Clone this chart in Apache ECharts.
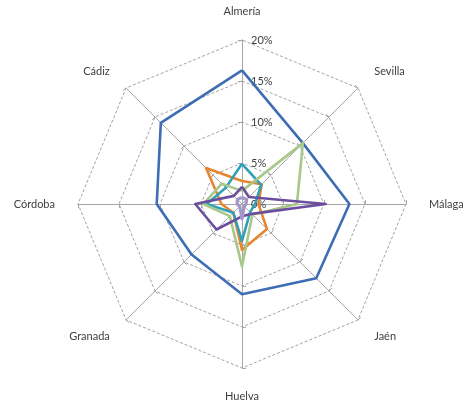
<!DOCTYPE html>
<html><head><meta charset="utf-8">
<script src="https://cdn.jsdelivr.net/npm/echarts@6/dist/echarts.min.js"></script>
<style>html,body{margin:0;padding:0;background:#fff}#c{width:466px;height:406px}</style>
</head><body><div id="c"></div>
<script>
// clockwise from the top
const categories = ['Almería','Sevilla','Málaga','Jaén','Huelva','Granada','Córdoba','Cádiz'];
const tickLabels = ['0%','5%','10%','15%','20%'];
const seriesBlue     = [16.3,10.5,13.1,12.8,11.0,8.7,10.4,14.0];
const seriesOrange   = [2.8,3.4,2.0,4.3,5.6,1.5,2.5,6.2];
const seriesTeal     = [4.9,3.3,1.6,1.4,4.5,1.5,4.3,2.8];
const seriesGreen    = [1.6,10.5,6.7,1.8,7.6,2.1,4.7,3.5];
const seriesPurple   = [2.1,1.2,10.2,1.7,1.5,4.4,5.7,1.4];
const seriesLavender = [0.8,0.8,0.5,0.4,1.8,0.4,0.6,0.8];

// ECharts radar goes counter-clockwise; reorder to keep clockwise layout
const order = [0,7,6,5,4,3,2,1];
const re = arr => order.map(i => arr[i]);

const indicator = order.map((i, k) => {
  const o = { name: categories[i], max: 20, min: 0 };
  if (k === 0) {
    o.axisLabel = {
      show: true, color: '#404040', fontSize: 11, fontFamily: 'Lato',
      margin: 6, align: 'left', padding: [0, 0, 0, 15],
      formatter: v => tickLabels[Math.round(v / 5)]
    };
  }
  return o;
});

const defs = [
  { v: seriesBlue, c: '#3E6DB4', w: 2.6 },
  { v: seriesOrange, c: '#E8862F', w: 2.6 },
  { v: seriesTeal, c: '#2FA0B8', w: 2.6 },
  { v: seriesGreen, c: '#A8C78A', w: 2.6 },
  { v: seriesPurple, c: '#6C4E9E', w: 2.6 },
  { v: seriesLavender, c: '#A496C9', w: 3.2 }
];

const chart = echarts.init(document.getElementById('c'), null, { renderer: 'canvas' });
chart.setOption({
  animation: false,
  backgroundColor: '#fff',
  radar: {
    center: [242, 204],
    radius: 164,
    startAngle: 90,
    splitNumber: 4,
    shape: 'polygon',
    indicator: indicator,
    nameGap: 23,
    axisName: { color: '#404040', fontSize: 11, fontFamily: 'Lato' },
    axisLine: { lineStyle: { color: '#A6A6A6', width: 1 } },
    axisTick: { show: true, length: 4, lineStyle: { color: '#A6A6A6' } },
    axisLabel: { show: false },
    splitLine: { lineStyle: { color: '#8C8C8C', type: [3, 2], width: 0.8 } },
    splitArea: { show: false }
  },
  series: defs.map(d => ({
    type: 'radar',
    symbol: 'none',
    lineStyle: { color: d.c, width: d.w },
    itemStyle: { color: d.c },
    data: [{ value: re(d.v) }]
  }))
});
</script>
</body></html>
